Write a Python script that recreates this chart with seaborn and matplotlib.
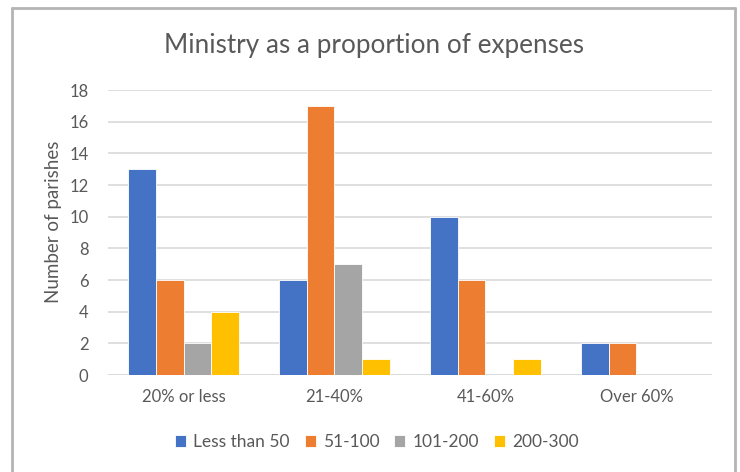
import matplotlib
matplotlib.use("Agg")
import matplotlib.pyplot as plt
from matplotlib.lines import Line2D
import seaborn as sns
import pandas as pd

categories = ["20% or less", "21-40%", "41-60%", "Over 60%"]
series_names = ["Less than 50", "51-100", "101-200", "200-300"]
less_than_50 = [13, 6, 10, 2]
s51_100 = [6, 17, 6, 2]
s101_200 = [2, 7, 0, 0]
s200_300 = [4, 1, 1, 0]
y_ticks = [0, 2, 4, 6, 8, 10, 12, 14, 16, 18]

colors = ["#4472C4", "#ED7D31", "#A5A5A5", "#FFC000"]
text_color = "#595959"
grid_color = "#D9D9D9"

rows = []
for name, vals in zip(series_names, [less_than_50, s51_100, s101_200, s200_300]):
    for cat, v in zip(categories, vals):
        rows.append({"Range": cat, "Size": name, "Count": v})
df = pd.DataFrame(rows)

sns.set_theme(style="white")
plt.rcParams["font.family"] = ["Lato", "DejaVu Sans"]

fig = plt.figure(figsize=(7.4, 4.72), dpi=100)
ax = fig.add_axes([0.146, 0.2055, 0.816, 0.6035])

sns.barplot(data=df, x="Range", y="Count", hue="Size", order=categories,
            hue_order=series_names, palette=colors, saturation=1, width=0.73,
            edgecolor="white", linewidth=0.6, ax=ax, zorder=3)

ax.set_ylim(0, 18)
ax.set_yticks(y_ticks)
ax.set_xlim(-0.5, 3.5)
ax.yaxis.grid(True, color=grid_color, linewidth=1.2, zorder=0)
ax.set_axisbelow(True)
for sp in ax.spines.values():
    sp.set_visible(False)
ax.axhline(0, color=grid_color, linewidth=1.2, zorder=1)
ax.tick_params(axis="both", length=0, labelsize=12, colors=text_color, pad=10)
ax.tick_params(axis="y", pad=14)
ax.set_xlabel("")
ax.set_ylabel("Number of parishes", fontsize=13.5, color=text_color)
ax.yaxis.set_label_coords(-0.076, 0.537)

fig.suptitle("Ministry as a proportion of expenses", x=0.505, y=0.93,
             fontsize=18.8, color=text_color)

leg = ax.legend(loc="center", bbox_to_anchor=(0.445, -0.235),
                ncol=4, frameon=False, fontsize=12.5, handlelength=0.65,
                handleheight=0.65, handletextpad=0.4, columnspacing=0.85)
for t in leg.get_texts():
    t.set_color(text_color)

# outer chart frame
frame_kw = dict(color="#B4B4B4", linewidth=2, transform=fig.transFigure)
x0, x1, ytop = 12 / 740, 735 / 740, 1 - 8 / 472
fig.add_artist(Line2D([x0, x0], [0, ytop], **frame_kw))
fig.add_artist(Line2D([x1, x1], [0, ytop], **frame_kw))
fig.add_artist(Line2D([x0, x1], [ytop, ytop], **frame_kw))

fig.savefig("out.png", dpi=100)
